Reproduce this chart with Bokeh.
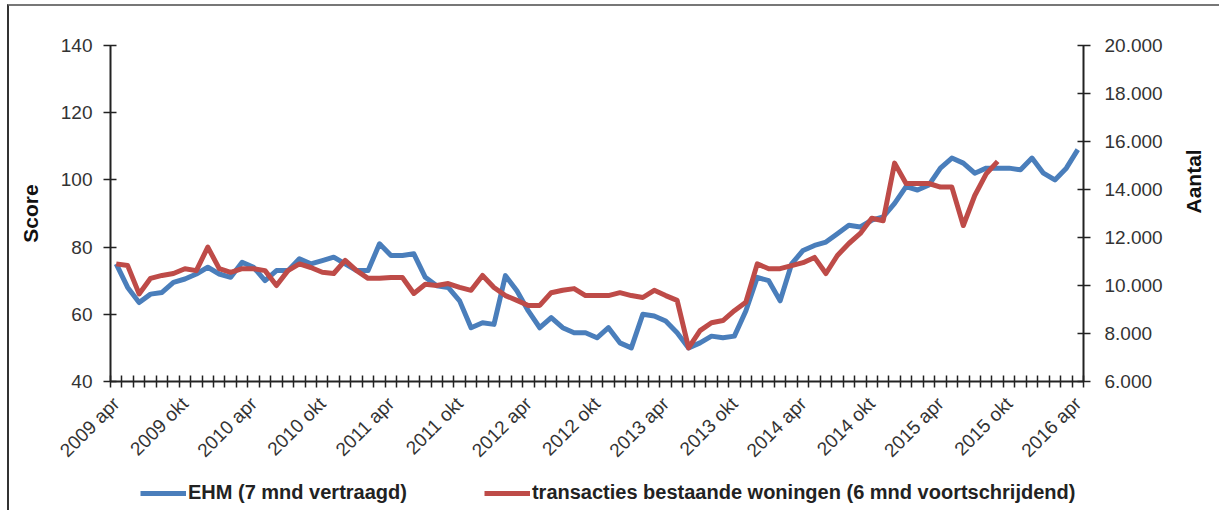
from math import pi
from bokeh.plotting import figure
from bokeh.layouts import column
from bokeh.models import FixedTicker, LinearAxis, Range1d, Legend, LegendItem, ColumnDataSource
from bokeh.embed import file_html
from bokeh.resources import INLINE

# ---------------- data ----------------
x_tick_labels = ["2009 apr", "2009 okt", "2010 apr", "2010 okt", "2011 apr", "2011 okt",
                 "2012 apr", "2012 okt", "2013 apr", "2013 okt", "2014 apr", "2014 okt",
                 "2015 apr", "2015 okt", "2016 apr"]

# EHM score (monthly, 2009 apr .. 2016 apr)
ehm = [75, 68, 63.5, 66, 66.5, 69.5, 70.5, 72, 74, 72, 71, 75.5, 74, 70, 73, 73, 76.5, 75,
       76, 77, 75, 73, 73, 81, 77.5, 77.5, 78, 71, 68.5, 68, 64, 56, 57.5, 57, 71.5, 67,
       61, 56, 59, 56, 54.5, 54.5, 53, 56, 51.5, 50, 60, 59.5, 58, 54.5, 50, 51.5, 53.5,
       53, 53.5, 61, 71, 70, 64, 75, 79, 80.5, 81.5, 84, 86.5, 86, 88, 89, 93, 98, 97,
       98.5, 103.5, 106.5, 105, 102, 103.5, 103.5, 103.5, 103, 106.5, 102, 100, 103.5, 109]

# transacties bestaande woningen (monthly, 2009 apr .. 2015 sep)
trans = [10900, 10830, 9650, 10300, 10420, 10500, 10700, 10620, 11600, 10700, 10550, 10700,
         10700, 10620, 10000, 10620, 10900, 10750, 10550, 10500, 11050, 10620, 10300, 10300,
         10330, 10330, 9670, 10050, 10000, 10080, 9920, 9800, 10420, 9920, 9580, 9380,
         9170, 9170, 9700, 9800, 9870, 9580, 9580, 9580, 9700, 9580, 9500, 9800, 9580,
         9380, 7400, 8120, 8450, 8540, 8950, 9300, 10900, 10700, 10700, 10830, 10950, 11170,
         10500, 11250, 11750, 12170, 12800, 12700, 15100, 14250, 14250, 14250, 14100, 14100,
         12500, 13750, 14650, 15170]

score_ticks = [40, 60, 80, 100, 120, 140]
count_ticks = [6000, 8000, 10000, 12000, 14000, 16000, 18000, 20000]
count_labels = ["6.000", "8.000", "10.000", "12.000", "14.000", "16.000", "18.000", "20.000"]

series_names = ["EHM (7 mnd vertraagd)",
                "transacties bestaande woningen (6 mnd voortschrijdend)"]
BLUE = "#4A7EBB"
RED = "#BE4B48"

# ---------------- figure ----------------
FONT = "Liberation Sans"
n = len(ehm)
W = 1210

p = figure(width=W, height=470, output_backend="svg", toolbar_location=None,
           x_range=Range1d(-0.5, n - 0.5), y_range=Range1d(40, 140),
           min_border_left=101, min_border_right=133, min_border_top=39, min_border_bottom=95)
p.outline_line_color = None
p.background_fill_color = "white"
p.border_fill_color = "white"

p.extra_y_ranges = {"cnt": Range1d(6000, 20000)}

src_e = ColumnDataSource(dict(x=list(range(len(ehm))), y=ehm))
src_t = ColumnDataSource(dict(x=list(range(len(trans))), y=trans))

r_e = p.line("x", "y", source=src_e, line_color=BLUE, line_width=5, line_join="round")
r_t = p.line("x", "y", source=src_t, line_color=RED, line_width=5, line_join="round",
             y_range_name="cnt")

# grid: only the top line
p.xgrid.visible = False
p.ygrid.ticker = FixedTicker(ticks=[140])
p.ygrid.grid_line_color = "#8c8c8c"
p.ygrid.grid_line_width = 2

# x axis
xa = p.xaxis[0]
xa.ticker = FixedTicker(ticks=[i * 6 for i in range(len(x_tick_labels))],
                        minor_ticks=[i - 0.5 for i in range(n + 1)])
xa.major_label_overrides = {i * 6: lab for i, lab in enumerate(x_tick_labels)}
xa.major_tick_line_color = None
xa.minor_tick_line_color = "#222"
xa.minor_tick_line_width = 1.5
xa.minor_tick_in = 6
xa.minor_tick_out = 6
xa.axis_line_color = "#222"
xa.axis_line_width = 2
xa.major_label_orientation = pi / 4
xa.major_label_text_font = FONT
xa.major_label_text_font_size = "19px"
xa.major_label_text_color = "#333"
xa.major_label_standoff = 13

# left axis
ya = p.yaxis[0]
ya.ticker = FixedTicker(ticks=score_ticks)
ya.minor_tick_line_color = None
ya.major_tick_in = 6
ya.major_tick_out = 7
ya.major_tick_line_color = "#222"
ya.major_tick_line_width = 1.5
ya.axis_line_color = "#222"
ya.axis_line_width = 2
ya.major_label_text_font = FONT
ya.major_label_text_font_size = "19px"
ya.major_label_text_color = "#333"
ya.major_label_standoff = 11
ya.axis_label = "Score"
ya.axis_label_text_font = FONT
ya.axis_label_text_font_size = "21px"
ya.axis_label_text_font_style = "bold"
ya.axis_label_text_color = "#111"
ya.axis_label_standoff = 16

# right axis
ra = LinearAxis(y_range_name="cnt", ticker=FixedTicker(ticks=count_ticks))
ra.major_label_overrides = {t: l for t, l in zip(count_ticks, count_labels)}
ra.minor_tick_line_color = None
ra.major_tick_in = 6
ra.major_tick_out = 7
ra.major_tick_line_color = "#222"
ra.major_tick_line_width = 1.5
ra.axis_line_color = "#222"
ra.axis_line_width = 2
ra.major_label_text_font = FONT
ra.major_label_text_font_size = "19px"
ra.major_label_text_color = "#333"
ra.major_label_standoff = 14
ra.axis_label = "Aantal"
ra.axis_label_orientation = pi / 2
ra.axis_label_text_font = FONT
ra.axis_label_text_font_size = "21px"
ra.axis_label_text_font_style = "bold"
ra.axis_label_text_color = "#111"
ra.axis_label_standoff = 28
p.add_layout(ra, "right")

# ---------------- legend strip ----------------
lg = figure(width=W, height=34, output_backend="svg", toolbar_location=None,
            x_axis_location=None, y_axis_location=None,
            x_range=Range1d(0, 1), y_range=Range1d(0, 1), min_border=0)
lg.outline_line_color = None
lg.xgrid.visible = False
lg.ygrid.visible = False
d_e = lg.line(x=[5], y=[5], line_color=BLUE, line_width=5)
d_t = lg.line(x=[5], y=[5], line_color=RED, line_width=5)
legend = Legend(items=[LegendItem(label=series_names[0], renderers=[d_e]),
                       LegendItem(label=series_names[1], renderers=[d_t])],
                orientation="horizontal", location=(30, 6))
legend.label_text_font = FONT
legend.label_text_font_size = "20px"
legend.label_text_font_style = "bold"
legend.label_text_color = "#222"
legend.glyph_width = 46
legend.glyph_height = 20
legend.label_standoff = 2
legend.spacing = 77
legend.padding = 0
legend.margin = 0
legend.border_line_color = None
legend.background_fill_alpha = 0
lg.add_layout(legend)

layout = column(p, lg, spacing=0)
layout.styles = {"margin-left": "7px", "margin-top": "4px",
                 "border-left": "2px solid #333", "border-top": "2px solid #777"}

open("out.html", "w").write(file_html(layout, INLINE))
